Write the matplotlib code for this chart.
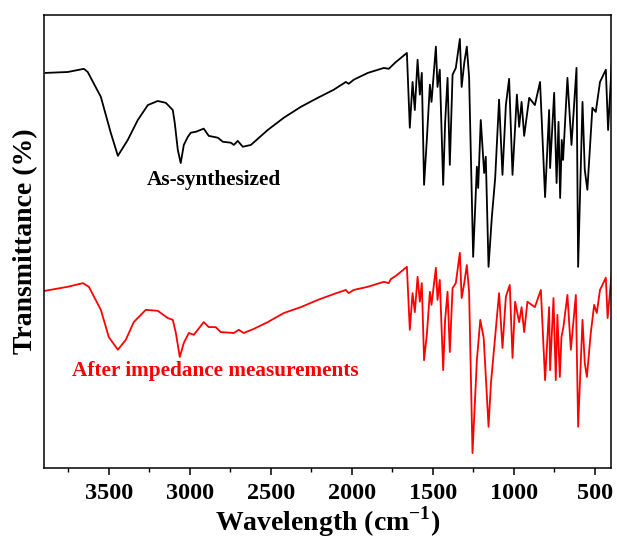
import numpy as np
import matplotlib
matplotlib.use("Agg")
import matplotlib.pyplot as plt
from matplotlib.ticker import MultipleLocator

plt.rcParams['font.family'] = ['Liberation Serif', 'DejaVu Serif']
plt.rcParams['font.weight'] = 'bold'
plt.rcParams['mathtext.fontset'] = 'custom'
plt.rcParams['mathtext.rm'] = 'Liberation Serif:bold'
plt.rcParams['mathtext.bf'] = 'Liberation Serif:bold'

# FTIR spectra (wavenumber in cm-1, transmittance in arbitrary %)
wn_black = [3889, 3753, 3654, 3630, 3549, 3488, 3444, 3383, 3321, 3259, 3198, 3148,
            3105, 3093, 3074, 3056, 3037, 3012, 2994, 2963, 2914, 2883, 2827, 2796,
            2747, 2728, 2704, 2673, 2623, 2519, 2420, 2315, 2210, 2111, 2037, 2019,
            1988, 1901, 1802, 1772, 1728, 1660, 1642, 1625, 1611, 1594, 1580, 1568,
            1554, 1537, 1518, 1508, 1481, 1471, 1457, 1436, 1424, 1409, 1395, 1378,
            1358, 1333, 1322, 1306, 1290, 1276, 1251, 1228, 1220, 1204, 1183, 1173,
            1156, 1136, 1115, 1091, 1070, 1049, 1029, 1008, 981, 967, 952, 936,
            905, 870, 838, 807, 782, 776, 751, 736, 724, 714, 704, 696,
            669, 644, 613, 603, 576, 562, 546, 515, 494, 468, 432, 418, 395]
t_black = [87.2, 87.4, 88.1, 87.4, 81.9, 74.0, 68.9, 72.4, 76.8, 80.1, 81.0, 80.6,
           79.0, 76.2, 70.2, 67.3, 71.3, 73.1, 74.0, 74.2, 74.9, 73.3, 72.9, 72.0,
           71.8, 71.3, 72.2, 70.9, 71.3, 74.6, 77.3, 79.7, 81.7, 83.5, 85.2, 84.8,
           85.7, 87.2, 88.3, 88.1, 89.6, 91.6, 75.1, 85.2, 79.0, 90.1, 82.4, 87.2,
           62.5, 72.4, 84.6, 80.8, 93.0, 84.1, 87.9, 62.5, 76.2, 86.1, 66.9, 86.8,
           88.3, 94.7, 84.1, 89.4, 93.0, 86.3, 46.6, 66.5, 61.8, 76.8, 65.1, 68.7,
           44.4, 55.2, 64.0, 81.3, 64.7, 80.1, 85.9, 64.7, 82.4, 75.3, 80.8, 73.3,
           81.7, 80.1, 85.2, 59.8, 79.0, 66.2, 82.8, 62.9, 76.4, 59.6, 72.4, 68.0,
           86.1, 71.3, 88.3, 44.4, 80.8, 65.8, 61.4, 79.5, 78.6, 85.2, 87.9, 74.6, 89.6]

wn_red = [3895, 3753, 3660, 3623, 3549, 3500, 3444, 3395, 3346, 3272, 3198, 3136,
          3105, 3086, 3062, 3037, 3006, 2975, 2914, 2883, 2840, 2809, 2728, 2698,
          2667, 2605, 2519, 2420, 2315, 2210, 2111, 2037, 2019, 1988, 1901, 1802,
          1772, 1759, 1728, 1660, 1642, 1625, 1611, 1594, 1580, 1568, 1554, 1537,
          1518, 1508, 1481, 1471, 1457, 1436, 1424, 1409, 1395, 1378, 1358, 1333,
          1322, 1306, 1290, 1276, 1255, 1228, 1207, 1186, 1176, 1156, 1141, 1121,
          1091, 1070, 1049, 1025, 1008, 992, 967, 952, 936, 916, 870, 833,
          807, 782, 776, 755, 741, 731, 716, 706, 694, 669, 648, 617,
          603, 576, 562, 549, 525, 504, 488, 468, 432, 421, 395]
t_red = [39.1, 40.0, 40.8, 40.0, 34.9, 28.9, 26.1, 28.3, 32.2, 34.9, 34.7, 33.1,
         32.7, 29.8, 24.5, 27.6, 29.8, 29.4, 32.2, 31.1, 31.1, 30.0, 29.8, 30.5,
         29.8, 30.7, 32.2, 34.2, 35.5, 37.1, 38.4, 39.3, 38.6, 39.3, 40.0, 41.1,
         40.8, 41.7, 42.4, 44.4, 30.5, 38.6, 34.4, 42.2, 36.7, 40.8, 23.8, 29.4,
         38.9, 36.0, 44.2, 37.1, 41.5, 21.6, 32.7, 38.9, 25.6, 39.7, 40.8, 47.5,
         37.5, 40.8, 44.8, 38.9, 3.3, 23.8, 32.7, 28.7, 22.3, 9.1, 18.8, 26.7,
         38.6, 26.5, 37.8, 40.4, 24.3, 36.7, 32.2, 35.5, 30.0, 36.7, 35.5, 39.3,
         19.4, 35.5, 21.6, 37.5, 19.4, 33.8, 20.1, 28.9, 31.1, 38.2, 26.1, 38.2,
         9.1, 32.7, 23.2, 20.1, 29.8, 36.0, 34.2, 39.3, 42.0, 33.1, 43.3]

fig = plt.figure(figsize=(6.17, 5.42), dpi=100)
ax = fig.add_axes([0.0713, 0.1365, 0.919, 0.836])

ax.plot(wn_black, t_black, color='black', lw=1.3)
ax.plot(wn_red, t_red, color='red', lw=1.3)

ax.text(2852, 63.6, 'As-synthesized', color='black', fontsize=15.3,
        fontweight='bold', ha='center', va='center')
ax.text(2840, 21.4, 'After impedance measurements', color='red', fontsize=15.3,
        fontweight='bold', ha='center', va='center')

ax.set_xlim(3900, 400)
ax.set_ylim(0, 100)
ax.xaxis.set_major_locator(MultipleLocator(500))
ax.xaxis.set_minor_locator(MultipleLocator(250))
ax.set_yticks([])
ax.tick_params(axis='x', which='major', direction='out', length=5, width=1.1,
               labelsize=17.5, pad=6)
ax.tick_params(axis='x', which='minor', direction='out', length=3, width=1.0)
for lab in ax.get_xticklabels():
    lab.set_fontweight('bold')
for s in ax.spines.values():
    s.set_linewidth(1.1)

ax.set_xlabel('Wavelength (cm$^{\\mathbf{-1}}$)', fontsize=20, fontweight='bold', labelpad=0)
ax.set_ylabel('Transmittance (%)', fontsize=20, fontweight='bold', labelpad=4)

fig.savefig('out.png', dpi=100)
